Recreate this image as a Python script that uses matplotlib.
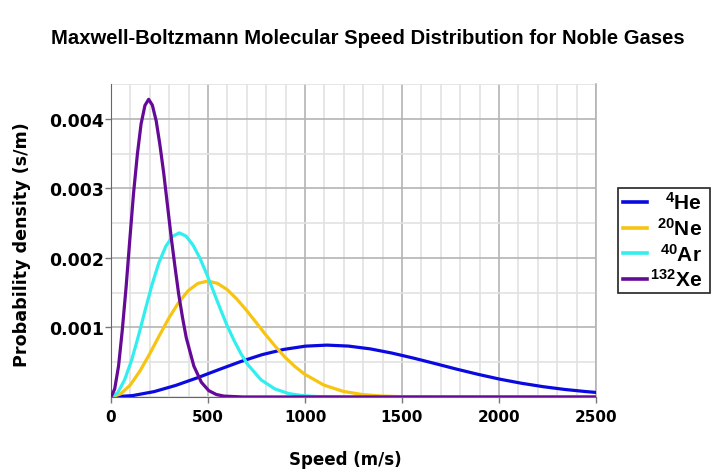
import matplotlib
matplotlib.use("Agg")
from matplotlib import pyplot as plt
from matplotlib.lines import Line2D
from matplotlib.patches import Rectangle
from matplotlib.ticker import MultipleLocator

plt.rcParams['mathtext.fontset'] = 'custom'
plt.rcParams['mathtext.rm'] = 'Liberation Sans'
plt.rcParams['mathtext.bf'] = 'Liberation Sans:bold'

# speeds (m/s) and probability densities (s/m)
he_speed = [0, 111, 223, 334, 445, 557, 668, 779, 890, 1002, 1113, 1224, 1336,
            1447, 1558, 1670, 1781, 1892, 2003, 2115, 2226, 2337, 2449, 2500]
he_dens = [0, 0.0000201, 0.0000779, 0.000167, 0.000276, 0.000395, 0.000509,
           0.000609, 0.000684, 0.000731, 0.000746, 0.000732, 0.000692, 0.000632,
           0.000560, 0.000481, 0.000401, 0.000326, 0.000257, 0.000198, 0.000149,
           0.000109, 0.0000776, 0.0000659]

ne_speed = [0, 50, 100, 149, 199, 249, 299, 349, 398, 448, 498, 548, 598, 647,
            697, 747, 797, 847, 896, 946, 996, 1096, 1195, 1295, 1394, 1494,
            1743, 2500]
ne_dens = [0, 0.0000449, 0.000174, 0.000373, 0.000618, 0.000882, 0.001138,
           0.001360, 0.001529, 0.001633, 0.001667, 0.001635, 0.001546, 0.001413,
           0.001251, 0.001075, 0.000897, 0.000728, 0.000575, 0.000443, 0.000332,
           0.000173, 0.0000822, 0.0000355, 0.0000140, 0.0000050, 0.0000003, 0]

ar_speed = [0, 35, 70, 106, 141, 176, 211, 246, 282, 317, 352, 387, 422, 458,
            493, 528, 563, 598, 634, 669, 704, 774, 845, 915, 986, 1056, 1232,
            2500]
ar_dens = [0, 0.0000635, 0.000246, 0.000527, 0.000874, 0.001248, 0.001610,
           0.001925, 0.002164, 0.002310, 0.002359, 0.002313, 0.002187, 0.001999,
           0.001770, 0.001520, 0.001269, 0.001030, 0.000814, 0.000626, 0.000470,
           0.000245, 0.000116, 0.0000502, 0.0000198, 0.0000071, 0.0000004, 0]

xe_speed = [0, 19, 39, 58, 78, 97, 116, 136, 155, 175, 194, 213, 233, 252, 272,
            291, 310, 330, 349, 369, 388, 427, 466, 504, 543, 582, 679, 2500]
xe_dens = [0, 0.0001152, 0.000447, 0.000957, 0.001586, 0.002265, 0.002922,
           0.003492, 0.003926, 0.004192, 0.004280, 0.004197, 0.003969, 0.003628,
           0.003212, 0.002759, 0.002302, 0.001868, 0.001476, 0.001136, 0.000852,
           0.000445, 0.000211, 0.0000911, 0.0000359, 0.0000129, 0.0000007, 0]

gas_labels = [r'$\mathbf{^{4}He}$', r'$\mathbf{^{20}Ne}$',
              r'$\mathbf{^{40}Ar}$', r'$\mathbf{^{132}Xe}$']
gas_colors = ['#0a0ae0', '#f7c511', '#33eeee', '#650a96']

fig = plt.figure(figsize=(7.22, 4.77), dpi=100)
ax = fig.add_axes([111/722, 1 - 398/477, 485/722, 313/477])

series = [(he_speed, he_dens), (ne_speed, ne_dens), (ar_speed, ar_dens), (xe_speed, xe_dens)]
for (xs, ys), col in zip(series, gas_colors):
    ax.plot(xs, ys, color=col, lw=2.3, solid_capstyle='round', solid_joinstyle='round', zorder=3)

ax.set_xlim(0, 2500)
ax.set_ylim(0, 0.0045)
ax.xaxis.set_major_locator(MultipleLocator(500))
ax.xaxis.set_minor_locator(MultipleLocator(100))
ax.yaxis.set_major_locator(MultipleLocator(0.001))
ax.yaxis.set_minor_locator(MultipleLocator(0.0005))
ax.set_yticks([0.001, 0.002, 0.003, 0.004])
ax.set_yticklabels(['0.001', '0.002', '0.003', '0.004'])
ax.grid(which='major', color='#b4b4b4', lw=1.2)
ax.grid(which='minor', color='#e2e2e2', lw=1.2)
ax.set_axisbelow(True)
ax.tick_params(which='minor', length=0)
ax.tick_params(which='major', length=4, width=1, color='#777777')
ax.tick_params(axis='x', labelsize=11, pad=5)
ax.tick_params(axis='y', labelsize=12.5, pad=1)
for lbl in ax.get_xticklabels() + ax.get_yticklabels():
    lbl.set_fontweight('bold')
ax.spines['top'].set_visible(False)
ax.spines['right'].set_color('#b4b4b4')
ax.spines['right'].set_linewidth(1.2)
ax.spines['left'].set_color('#666666')
ax.spines['bottom'].set_color('#666666')

fig.text(368/722, 1 - 38/477, 'Maxwell-Boltzmann Molecular Speed Distribution for Noble Gases',
         ha='center', va='center', fontsize=14.6, fontweight='bold', family='Liberation Sans')
fig.text(345/722, 1 - 460/477, 'Speed (m/s)', ha='center', va='center',
         fontsize=12, fontweight='bold')
fig.text(22/722, 1 - 245/477, 'Probability density (s/m)', ha='center', va='center',
         rotation=90, fontsize=12.6, fontweight='bold')

# legend box drawn by hand so the labels sit right-aligned
W, H = 722.0, 477.0
fig.patches.append(Rectangle((618/W, 1 - 294/H), 92/W, 105/H, transform=fig.transFigure,
                             facecolor='white', edgecolor='#222222', lw=1.2))
for i, (lab, col) in enumerate(zip(gas_labels, gas_colors)):
    yy = 1 - (203 + i * 25.7) / H
    fig.lines.append(Line2D([623/W, 647/W], [yy, yy], transform=fig.transFigure,
                            color=col, lw=2.6))
    fig.text(702/W, yy, lab, ha='right', va='center', fontsize=15)

fig.savefig('out.png', dpi=100)
